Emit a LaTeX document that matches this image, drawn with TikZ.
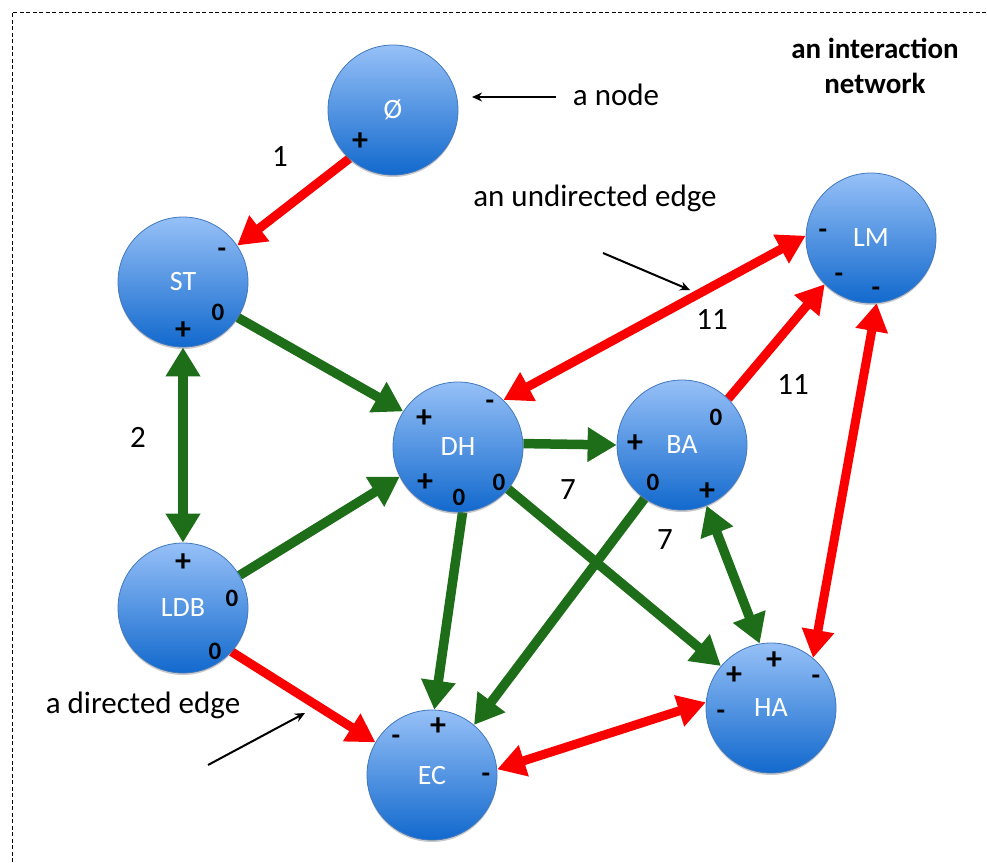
\documentclass[tikz,border=0pt]{standalone}
\usepackage{fontspec}
\setmainfont{Carlito}
\usetikzlibrary{arrows.meta,shadows,backgrounds}
\definecolor{redE}{RGB}{250,0,0}
\definecolor{greenE}{RGB}{30,110,25}
\definecolor{topB}{RGB}{150,192,247}
\definecolor{botB}{RGB}{18,105,205}
\definecolor{rimB}{RGB}{65,120,190}
\tikzset{
  netnode/.style={circle, minimum size=130pt, inner sep=0pt, draw=rimB, line width=0.8pt,
    top color=topB, bottom color=botB, text=white, font=\fontsize{28}{28}\selectfont,
    drop shadow={shadow xshift=0pt, shadow yshift=-2pt, opacity=0.35, fill=black!60}},
  plus/.style={font=\bfseries\fontsize{32}{32}\selectfont, inner sep=0pt},
  zero/.style={font=\bfseries\fontsize{25}{25}\selectfont, inner sep=0pt},
  minus/.style={font=\bfseries\fontsize{28}{28}\selectfont, inner sep=0pt},
  note/.style={font=\fontsize{31}{31}\selectfont, inner sep=0pt},
  num/.style={font=\fontsize{31}{31}\selectfont, inner sep=0pt},
  redarrow/.style={draw=redE, line width=9pt, -{Triangle[length=28pt,width=31pt]}},
  redboth/.style={draw=redE, line width=9pt, {Triangle[length=28pt,width=31pt]}-{Triangle[length=28pt,width=31pt]}},
  greenarrow/.style={draw=greenE, line width=9.5pt, -{Triangle[length=29pt,width=33pt]}},
  greenboth/.style={draw=greenE, line width=9.5pt, {Triangle[length=29pt,width=33pt]}-{Triangle[length=29pt,width=33pt]}},
  pointer/.style={draw=black, line width=2pt, -{Stealth[length=10pt,width=9pt]}},
  frame/.style={draw=black, line width=0.9pt, dash pattern=on 4pt off 2.5pt}
}
\begin{document}
\begin{tikzpicture}[x=1pt,y=-1pt]
\useasboundingbox (0,0) rectangle (987,862);
\draw[frame] (12,862) -- (12,12) -- (987,12);

% nodes
\node[netnode] (phi) at (393,110) {Ø};
\node[netnode] (ST)  at (183,282) {ST};
\node[netnode] (DH)  at (458,447) {DH};
\node[netnode] (BA)  at (682,445) {BA};
\node[netnode] (LM)  at (871,238) {LM};
\node[netnode] (LDB) at (183,608) {LDB};
\node[netnode] (EC)  at (432,775) {EC};
\node[netnode] (HA)  at (771,708) {HA};

% edges
\begin{scope}[on background layer]
\draw[redarrow]   (phi.228) -- (ST.34);
\draw[greenarrow] (ST.-33) -- (DH.147);
\draw[greenboth]  (ST.south) -- (LDB.north);
\draw[greenarrow] (LDB.30) -- (DH.207);
\draw[redarrow]   (LDB.-42) -- (EC.150);
\draw[greenarrow] (DH.3) -- (BA.180);
\draw[greenarrow] (DH.-86) -- (EC.88);
\draw[greenarrow] (DH.-40) -- (HA.140);
\draw[greenarrow] (BA.-125) -- (EC.50);
\draw[greenboth]  (BA.-68) -- (HA.100);
\draw[redarrow]   (BA.45) -- (LM.-135);
\draw[redboth]    (DH.46) -- (LM.178);
\draw[redboth]    (LM.-85) -- (HA.50);
\draw[redboth]    (EC.5) -- (HA.175);
\end{scope}

% signs
\node[plus]  (s1) at (360,142) {+};
\node[minus] (s2) at (222,253) {-};
\node[zero]  (s3) at (218,312) {0};
\node[plus]  (s4) at (183,331) {+};
\node[plus]  (s5) at (424,419) {+};
\node[minus] (s6) at (490,405) {-};
\node[plus]  (s7) at (425,483) {+};
\node[zero]  (s8) at (459,497) {0};
\node[zero]  (s9) at (499,482) {0};
\node[zero]  (s10) at (716,417) {0};
\node[plus]  (s11) at (635,444) {+};
\node[zero]  (s12) at (653,482) {0};
\node[plus]  (s13) at (707,492) {+};
\node[minus] (s14) at (823,234) {-};
\node[minus] (s15) at (839,278) {-};
\node[minus] (s16) at (876,292) {-};
\node[plus]  (s17) at (734,676) {+};
\node[plus]  (s18) at (774,661) {+};
\node[minus] (s19) at (816,680) {-};
\node[minus] (s20) at (721,715) {-};
\node[plus]  (s21) at (438,727) {+};
\node[minus] (s22) at (396,740) {-};
\node[minus] (s23) at (486,778) {-};
\node[plus]  (s24) at (183,563) {+};
\node[zero]  (s25) at (232,598) {0};
\node[zero]  (s26) at (215,651) {0};

% edge labels
\node[num] (n1) at (280,157) {1};
\node[num] (n2) at (138,437) {2};
\node[num] (n3) at (568,490) {7};
\node[num] (n4) at (665,540) {7};
\node[num] (n5) at (712,320) {11};
\node[num] (n6) at (793,385) {11};

% annotations
\node[note] (tnode) at (616,95) {a node};
\node[note] (tund) at (595,198) {an undirected edge};
\node[note] (tdir) at (143,705) {a directed edge};
\node[font=\bfseries\fontsize{29}{29}\selectfont, inner sep=0pt] (title1) at (875,48) {an interaction};
\node[font=\bfseries\fontsize{29}{29}\selectfont, inner sep=0pt] (title2) at (875,83) {network};

\coordinate (a1s) at (556,97);
\coordinate (a1e) at (472,97);
\coordinate (a2s) at (603,253);
\coordinate (a2e) at (690,290);
\coordinate (a3s) at (208,765);
\coordinate (a3e) at (305,713);
\draw[pointer] (a1s) -- (a1e);
\draw[pointer] (a2s) -- (a2e);
\draw[pointer] (a3s) -- (a3e);
\end{tikzpicture}
\end{document}
